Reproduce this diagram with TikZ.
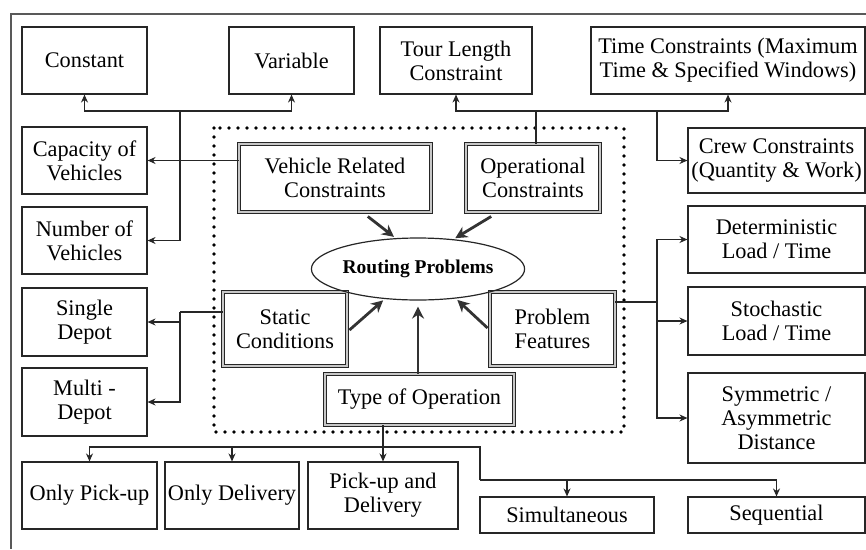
\documentclass[tikz,border=0pt]{standalone}
\usepackage{fontspec}
\setmainfont{Liberation Serif}
\usetikzlibrary{arrows.meta,calc,shapes.geometric}
\begin{document}
\begin{tikzpicture}[x=1pt,y=-1pt,
  txt/.style={font=\fontsize{22.3}{23.8}\selectfont},
  box/.style={txt, draw=black!85, line width=1.1pt, align=center, inner sep=1pt},
  dbox/.style={txt, draw=black!85, double=black!22, double distance=2.6pt, line width=0.9pt, align=center, inner sep=1pt},
  conn/.style={draw=black!85, line width=1.1pt},
  arr/.style={conn, -{Stealth[length=8pt,width=7pt]}},
  bigarr/.style={draw=black!80, line width=2.8pt, -{Stealth[length=12pt,width=12pt]}, shorten >=2pt}]
\useasboundingbox (0,0) rectangle (866,549);
% outer frame
\draw[black!65, line width=1.3pt] (866,14) -- (11,14) -- (11,549);
% dotted frame
\draw[line width=3.8pt, line cap=round, dash pattern=on 0pt off 9pt] (214,128) rectangle (624,432);

% top row
\node[box, minimum width=125pt, minimum height=67pt] (const) at (84.5,60.5) {Constant};
\node[box, minimum width=125pt, minimum height=67pt] (var) at (291.5,60.5) {Variable};
\node[box, minimum width=152pt, minimum height=67pt] (tour) at (456,60.5) {Tour Length\\Constraint};
\node[box, minimum width=274pt, minimum height=67pt] (time) at (728,60.5) {Time Constraints (Maximum\\Time \& Specified Windows)};
% left column
\node[box, minimum width=125pt, minimum height=67pt] (cap) at (84.5,160.5) {Capacity of\\Vehicles};
\node[box, minimum width=125pt, minimum height=67pt] (num) at (84.5,240.5) {Number of\\Vehicles};
\node[box, minimum width=125pt, minimum height=68pt] (single) at (84.5,322) {Single\\Depot};
\node[box, minimum width=125pt, minimum height=68pt] (multi) at (84.5,402) {Multi -\\Depot};
% right column
\node[box, minimum width=177pt, minimum height=65pt] (crew) at (776.5,160.5) {Crew Constraints\\(Quantity \& Work)};
\node[box, minimum width=177pt, minimum height=67pt] (det) at (776.5,239.5) {Deterministic\\Load / Time};
\node[box, minimum width=177pt, minimum height=68pt] (sto) at (776.5,321) {Stochastic\\Load / Time};
\node[box, minimum width=177pt, minimum height=90pt] (sym) at (776.5,418) {Symmetric /\\Asymmetric\\Distance};
% bottom row
\node[box, minimum width=135pt, minimum height=67pt] (opu) at (89.5,495.5) {Only Pick-up};
\node[box, minimum width=134pt, minimum height=67pt] (od) at (232,495.5) {Only Delivery};
\node[box, minimum width=150pt, minimum height=67pt] (pd) at (383,495.5) {Pick-up and\\Delivery};
\node[box, minimum width=174pt, minimum height=36pt] (sim) at (567,515) {Simultaneous};
\node[box, minimum width=177pt, minimum height=36pt] (seq) at (776.5,515) {Sequential};

% inner double boxes
\node[dbox, minimum width=192pt, minimum height=68pt] (vr) at (335,178) {Vehicle Related\\Constraints};
\node[dbox, minimum width=134pt, minimum height=68pt] (oc) at (533,178) {Operational\\Constraints};
\node[dbox, minimum width=124pt, minimum height=74pt] (st) at (285,329) {Static\\Conditions};
\node[dbox, minimum width=125pt, minimum height=74pt] (pf) at (552.5,329) {Problem\\Features};
\node[dbox, minimum width=189pt, minimum height=51pt] (type) at (419.5,399.5) {Type of Operation};
\node[ellipse, draw=black!85, line width=1.2pt, minimum width=169pt, minimum height=62pt, inner sep=0pt,
      font=\fontsize{19.5}{21}\selectfont\bfseries] (rp) at (418,269) {Routing Problems};

% junction coordinates
\coordinate (vt) at (180,111);
\coordinate (ot) at (536,111);
\coordinate (cj) at (657,111);
\coordinate (pj) at (657,302);
\coordinate (sj) at (180,312);
\coordinate (tj) at (383,447);
\coordinate (tk) at (480,480);

% vehicle related
\draw[arr] (vr.west |- cap.east) -- (cap.east);
\draw[arr] (vt) |- (num.east);
\draw[arr] (vt) -| (const.south);
\draw[arr] (vt) -| (var.south);
% operational
\draw[conn] (ot |- oc.north) -- (ot);
\draw[arr] (ot) -| (tour.south);
\draw[arr] (ot) -| (time.south);
\draw[arr] (cj) |- (crew.west);
% problem features
\draw[conn] (pf.east |- pj) -- (pj);
\draw[arr] (pj) |- (det.west);
\draw[arr] (pj) |- (sto.west);
\draw[arr] (pj) |- (sym.west);
% static
\draw[conn] (st.west |- sj) -- (sj);
\draw[arr] (sj) |- (single.east);
\draw[arr] (sj) |- (multi.east);
% type of operation
\draw[conn] (type.south -| tj) -- (tj);
\draw[arr] (tj) -- (pd.north);
\draw[arr] (tj) -| (opu.north);
\draw[arr] (tj) -| (od.north);
\draw[conn] (tj) -| (tk);
\draw[arr] (tk) -| (sim.north);
\draw[arr] (tk) -| (seq.north);

% thick arrows to the ellipse
\draw[bigarr] ($(vr.south west)!0.67!(vr.south east)+(0,4)$) -- (rp.126);
\draw[bigarr] ($(oc.south west)!0.19!(oc.south east)+(0,4)$) -- (rp.40);
\draw[bigarr] ($(st.east)+(2,1)$) -- (rp.222);
\draw[bigarr] ($(pf.west)+(-2,-1)$) -- (rp.322);
\draw[bigarr, shorten >=6pt] (type.north -| rp.south) -- (rp.south);
\end{tikzpicture}
\end{document}
